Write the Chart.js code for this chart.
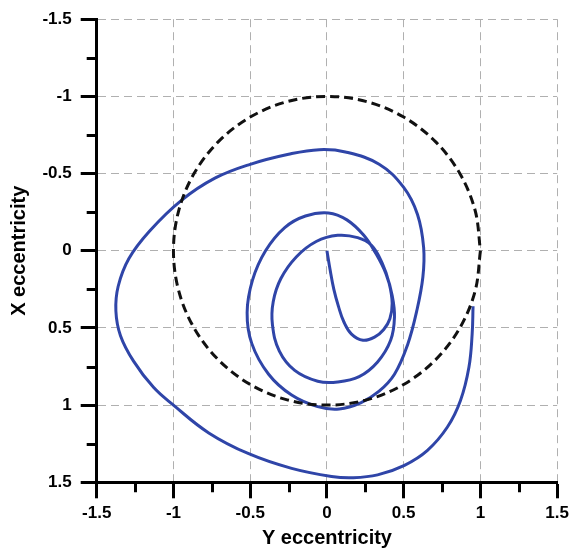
<!DOCTYPE html>
<html>
<head>
<meta charset="utf-8">
<script src="https://cdn.jsdelivr.net/npm/chart.js@4.4.0/dist/chart.umd.min.js"></script>
<style>
    html, body { margin: 0; padding: 0; background: #fff; }
    #wrap { width: 574px; height: 552px; }
</style>
</head>
<body>
<div id="wrap"><canvas id="orbit"></canvas></div>
<script>
(function () {
    "use strict";

    // Shaft orbit, Y eccentricity across / X eccentricity down
    var orbitY = [0.00, 0.02, 0.045, 0.075, 0.11, 0.16, 0.235, 0.31, 0.37, 0.41,
        0.425, 0.405, 0.36, 0.29, 0.20, 0.07, -0.07, -0.20, -0.30, -0.35,
        -0.355, -0.31, -0.21, -0.06, 0.07, 0.21, 0.33, 0.415, 0.44, 0.425,
        0.385, 0.32, 0.24, 0.13, 0.01, -0.14, -0.275, -0.40, -0.485, -0.52,
        -0.49, -0.38, -0.23, -0.06, 0.08, 0.22, 0.34, 0.44, 0.525, 0.585,
        0.625, 0.63, 0.59, 0.50, 0.34, 0.12, -0.05, -0.25, -0.50, -0.73,
        -0.95, -1.155, -1.29, -1.36, -1.375, -1.345, -1.26, -1.13, -1.0, -0.77,
        -0.51, -0.23, 0.03, 0.17, 0.33, 0.505, 0.655, 0.785, 0.87, 0.925,
        0.946, 0.952];
    var orbitX = [0.00, 0.12, 0.25, 0.36, 0.46, 0.54, 0.58, 0.56, 0.51, 0.44,
        0.34, 0.21, 0.08, -0.035, -0.085, -0.10, -0.06, 0.04, 0.18, 0.33,
        0.48, 0.65, 0.775, 0.845, 0.85, 0.815, 0.72, 0.58, 0.43, 0.29,
        0.15, 0.02, -0.10, -0.20, -0.245, -0.225, -0.15, 0.0, 0.19, 0.40,
        0.60, 0.80, 0.935, 1.01, 1.025, 0.985, 0.91, 0.80, 0.61, 0.39,
        0.17, -0.02, -0.235, -0.41, -0.56, -0.64, -0.655, -0.625, -0.56, -0.47,
        -0.325, -0.128, 0.05, 0.23, 0.39, 0.55, 0.715, 0.885, 1.0, 1.18,
        1.315, 1.41, 1.462, 1.47, 1.452, 1.39, 1.293, 1.142, 0.97, 0.755,
        0.54, 0.36];

    // Bearing clearance circle (radius 1)
    var circleY = [1, 0.966, 0.866, 0.707, 0.5, 0.259, 0, -0.259, -0.5, -0.707, -0.866, -0.966,
        -1, -0.966, -0.866, -0.707, -0.5, -0.259, 0, 0.259, 0.5, 0.707, 0.866, 0.966, 1];
    var circleX = [0, 0.259, 0.5, 0.707, 0.866, 0.966, 1, 0.966, 0.866, 0.707, 0.5, 0.259,
        0, -0.259, -0.5, -0.707, -0.866, -0.966, -1, -0.966, -0.866, -0.707, -0.5, -0.259, 0];

    var majorTicks = [-1.5, -1, -0.5, 0, 0.5, 1, 1.5];
    var minorTicks = [-1.25, -0.75, -0.25, 0.25, 0.75, 1.25];

    function toPoints(xs, ys) {
        return xs.map(function (v, i) { return {x: v, y: ys[i]}; });
    }

    // short ticks between the labelled ones
    var minorTickMarks = {
        id: 'minorTickMarks',
        afterDraw: function (chart) {
            var ctx = chart.ctx;
            var area = chart.chartArea;
            var sx = chart.scales.x;
            var sy = chart.scales.y;
            ctx.save();
            ctx.strokeStyle = '#000';
            ctx.lineWidth = 3;
            ctx.beginPath();
            minorTicks.forEach(function (v) {
                var px = Math.round(sx.getPixelForValue(v)) + 0.5;
                ctx.moveTo(px, area.bottom);
                ctx.lineTo(px, area.bottom + 10);
                var py = Math.round(sy.getPixelForValue(v)) + 0.5;
                ctx.moveTo(area.left - 10, py);
                ctx.lineTo(area.left, py);
            });
            ctx.stroke();
            ctx.restore();
        }
    };

    Chart.defaults.font.family = '"Liberation Sans", Arial, sans-serif';
    Chart.defaults.color = "#000";

    function axis(title, titlePadding) {
        return {
            type: 'linear',
            min: -1.5,
            max: 1.5,
            afterBuildTicks: function (scale) {
                scale.ticks = majorTicks.map(function (v) { return {value: v}; });
            },
            grid: {
                color: '#b0b0b0',
                lineWidth: 1,
                tickColor: '#000',
                tickWidth: 3,
                tickLength: 16
            },
            border: {
                display: true,
                color: '#000',
                width: 3,
                dash: [8, 5]
            },
            ticks: {
                font: {size: 17, weight: 'bold'},
                color: '#000',
                callback: function (value) { return String(value); }
            },
            title: {
                display: true,
                text: title,
                font: {size: 20, weight: 'bold'},
                color: '#000',
                padding: titlePadding
            }
        };
    }

    var xAxis = axis('Y eccentricity', {top: 0, bottom: 2});
    xAxis.ticks.padding = 5;
    xAxis.afterFit = function (scale) { scale.height = 69.7; };

    var yAxis = axis('X eccentricity', {top: 7, bottom: 0});
    yAxis.reverse = true;
    yAxis.ticks.padding = 9;
    yAxis.afterFit = function (scale) { scale.width = 96.7; };

    var ctx = document.getElementById('orbit').getContext('2d');
    var orbitChart = new Chart(ctx, {
        type: 'line',
        data: {
            datasets: [{
                label: 'Clearance',
                data: toPoints(circleY, circleX),
                borderColor: '#111',
                borderWidth: 3,
                borderDash: [9, 5],
                tension: 0.34,
                pointRadius: 0,
                fill: false
            },
            {
                label: 'Orbit',
                data: toPoints(orbitY, orbitX),
                borderColor: '#2f45a8',
                borderWidth: 3,
                tension: 0.4,
                pointRadius: 0,
                fill: false
            }]
        },
        options: {
            responsive: true,
            maintainAspectRatio: false,
            animation: false,
            layout: {padding: {top: 18, right: 14, left: 0, bottom: 0}},
            plugins: {
                legend: {display: false},
                tooltip: {enabled: false}
            },
            scales: {
                x: xAxis,
                y: yAxis
            }
        },
        plugins: [minorTickMarks]
    });
})();
</script>
</body>
</html>
